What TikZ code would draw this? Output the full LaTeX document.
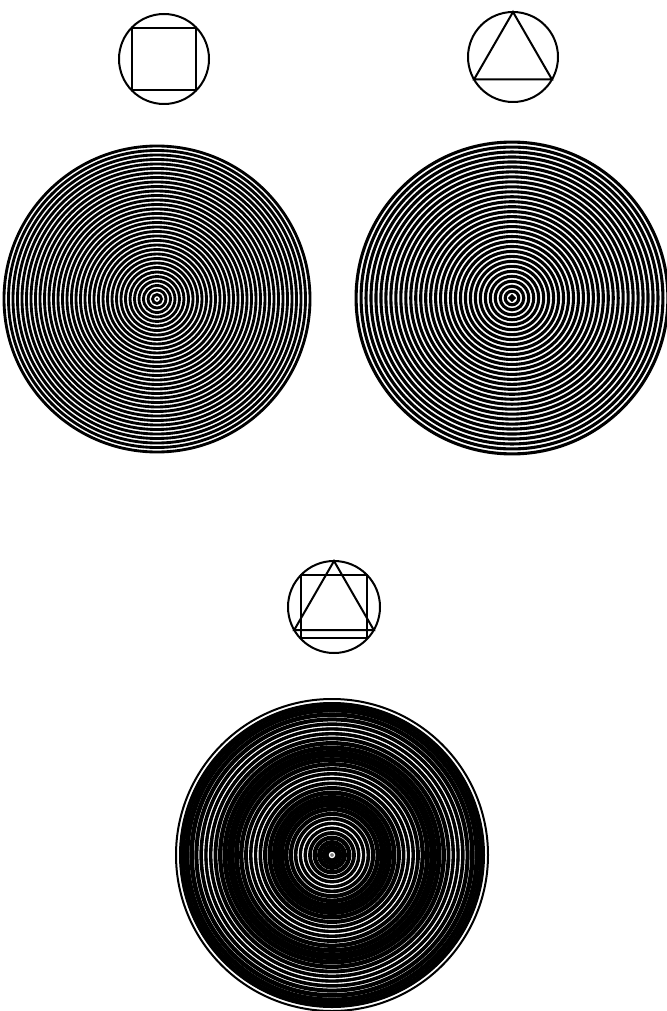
\documentclass[tikz,border=0pt]{standalone}
\usepackage{tikz}

\begin{document}
\begin{tikzpicture}[x=1pt, y=-1pt,
                    icon/.style={line width=2pt},
                    ringa/.style={line width=2.85pt},
                    ringb/.style={line width=3.1pt}]
  \useasboundingbox[fill=white] (0,0) rectangle (666,1011);
  % centres
  \coordinate (sqicon) at (164,59);
  \coordinate (triicon) at (513,57);
  \coordinate (bothicon) at (334,607);
  \coordinate (sqdisc) at (157,299);
  \coordinate (tridisc) at (512,298);
  \coordinate (bothdisc) at (332,855);

  % small figures
  \draw[icon] (sqicon) circle[radius=45];
  \draw[icon] (sqicon) ++(-32,-31) rectangle ++(64,62);
  \draw[icon] (triicon) circle[radius=45];
  \draw[icon] (triicon) ++(0,-45) -- ++(39,67.5) -- ++(-78,0) -- cycle;
  \draw[icon] (bothicon) circle[radius=46];
  \draw[icon] (bothicon) ++(-33,-32) rectangle ++(66,63);
  \draw[icon] (bothicon) ++(0,-46) -- ++(39.8,69) -- ++(-79.6,0) -- cycle;

  % ring patterns
  \fill (sqdisc) circle[radius=1.2];
  \foreach \n in {1,...,34}
    \draw[ringa] (sqdisc) circle[radius=\n*4.5];
  \foreach \n in {0,...,31}
    \draw[ringb] (tridisc) circle[radius=1.84+\n*4.97];

  % both patterns laid on one another
  \begin{scope}
    \clip (bothdisc) circle[radius=153];
    \foreach \n in {1,...,34}
      \draw[ringa] (bothdisc) circle[radius=\n*4.5];
    \foreach \n in {0,...,31}
      \draw[ringb] (bothdisc) circle[radius=1.84+\n*4.97];
  \end{scope}
  \draw[white, line width=1.2pt, fill=gray] (bothdisc) circle[radius=2.6];
  \draw[line width=2pt] (bothdisc) circle[radius=156];
\end{tikzpicture}
\end{document}
